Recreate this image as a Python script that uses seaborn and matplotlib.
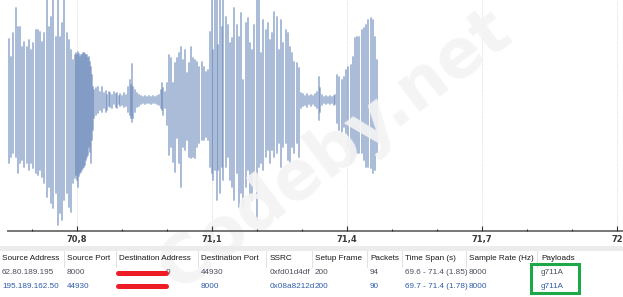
import numpy as np
import pandas as pd
import matplotlib
matplotlib.use("Agg")
import matplotlib.pyplot as plt
import seaborn as sns

# ---------------- data ----------------
# waveform strokes: time (s), upper peak, lower trough (relative sample amplitude)
stroke_t = [70.6490, 70.6534, 70.6579, 70.6646, 70.6690, 70.6734, 70.6779, 70.6823, 70.6890, 70.6934,
            70.6979, 70.7023, 70.7090, 70.7134, 70.7179, 70.7223, 70.7268, 70.7334, 70.7379, 70.7423,
            70.7468, 70.7534, 70.7579, 70.7623, 70.7668, 70.7712, 70.7779, 70.7823, 70.7868, 70.7912,
            70.7957, 70.7979, 70.8001, 70.8023, 70.8046, 70.8068, 70.8090, 70.8112, 70.8134, 70.8157,
            70.8179, 70.8201, 70.8223, 70.8246, 70.8268, 70.8290, 70.8312, 70.8334, 70.8357, 70.8379,
            70.8423, 70.8468, 70.8512, 70.8557, 70.8601, 70.8646, 70.8668, 70.8712, 70.8734, 70.8779,
            70.8823, 70.8868, 70.8890, 70.8934, 70.8957, 70.9001, 70.9046, 70.9090, 70.9134, 70.9179,
            70.9201, 70.9223, 70.9246, 70.9290, 70.9334, 70.9379, 70.9423, 70.9468, 70.9512, 70.9557,
            70.9601, 70.9646, 70.9690, 70.9734, 70.9779, 70.9823, 70.9868, 70.9890, 70.9912, 70.9957,
            71.0001, 71.0046, 71.0090, 71.0134, 71.0179, 71.0223, 71.0268, 71.0312, 71.0357, 71.0401,
            71.0446, 71.0490, 71.0534, 71.0579, 71.0623, 71.0668, 71.0712, 71.0779, 71.0823, 71.0868,
            71.0912, 71.0957, 71.1001, 71.1023, 71.1068, 71.1112, 71.1134, 71.1179, 71.1223, 71.1246,
            71.1312, 71.1357, 71.1401, 71.1446, 71.1490, 71.1557, 71.1601, 71.1646, 71.1690, 71.1757,
            71.1801, 71.1846, 71.1890, 71.1934, 71.2001, 71.2046, 71.2090, 71.2134, 71.2201, 71.2246,
            71.2290, 71.2334, 71.2379, 71.2446, 71.2490, 71.2534, 71.2579, 71.2646, 71.2690, 71.2734,
            71.2779, 71.2823, 71.2890, 71.2934, 71.2979, 71.3023, 71.3068, 71.3112, 71.3157, 71.3201,
            71.3246, 71.3290, 71.3334, 71.3379, 71.3401, 71.3446, 71.3490, 71.3534, 71.3579, 71.3623,
            71.3668, 71.3712, 71.3734, 71.3779, 71.3823, 71.3890, 71.3934, 71.3979, 71.4023, 71.4090,
            71.4134, 71.4179, 71.4223, 71.4268, 71.4334, 71.4379, 71.4423, 71.4468, 71.4534, 71.4579,
            71.4623, 71.4668]
stroke_hi = [61, 43, 67, 92, 73, 73, 53, 58, 53, 60,
             50, 57, 70, 70, 68, 58, 67, 115, 73, 83,
             115, 63, 115, 63, 77, 115, 67, 60, 50, 40,
             45, 47, 45, 48, 46, 43, 45, 45, 47, 47,
             46, 45, 45, 42, 43, 38, 33, 25, 13, 10,
             12, 13, 8, 13, 7, 9, 5, 8, 7, 5,
             8, 6, 7, 4, 6, 4, 7, 5, 13, 20,
             15, 36, 13, 10, 7, 5, 4, 3, 4, 3,
             4, 3, 4, 3, 4, 5, 10, 17, 12, 8,
             17, 45, 42, 17, 37, 42, 47, 53, 40, 50,
             27, 37, 53, 42, 40, 38, 33, 38, 33, 28,
             30, 68, 115, 50, 115, 115, 55, 115, 73, 115,
             83, 75, 57, 62, 92, 75, 63, 87, 20, 77,
             82, 57, 50, 75, 115, 115, 47, 80, 70, 77,
             60, 67, 88, 83, 50, 80, 57, 70, 67, 53,
             47, 38, 37, 32, 7, 6, 4, 6, 4, 5,
             4, 6, 8, 23, 12, 5, 3, 4, 3, 4,
             3, 4, 5, 25, 23, 20, 23, 30, 33, 35,
             43, 62, 63, 63, 70, 72, 75, 80, 82, 80,
             63, 40]
stroke_lo = [-63, -57, -53, -57, -73, -63, -60, -67, -63, -70,
             -63, -68, -73, -75, -70, -77, -83, -97, -87, -103,
             -108, -93, -125, -113, -120, -100, -93, -107, -112, -83,
             -78, -75, -80, -87, -76, -73, -72, -70, -68, -67,
             -65, -60, -57, -55, -47, -52, -63, -40, -30, -18,
             -15, -13, -10, -12, -8, -12, -10, -6, -7, -8,
             -4, -7, -8, -4, -6, -5, -7, -6, -12, -15,
             -18, -22, -18, -12, -7, -6, -4, -3, -4, -3,
             -3, -4, -3, -3, -4, -5, -8, -10, -15, -8,
             -25, -55, -47, -62, -72, -38, -63, -87, -47, -50,
             -40, -57, -58, -57, -58, -47, -43, -40, -40, -37,
             -40, -67, -73, -80, -70, -100, -70, -93, -67, -80,
             -67, -57, -80, -87, -100, -73, -107, -93, -107, -87,
             -70, -97, -100, -73, -120, -67, -63, -70, -57, -50,
             -63, -50, -57, -53, -43, -67, -47, -43, -60, -63,
             -47, -53, -43, -57, -8, -6, -5, -7, -4, -6,
             -4, -6, -8, -20, -12, -5, -3, -4, -3, -4,
             -3, -5, -4, -23, -30, -33, -27, -33, -47, -63,
             -60, -57, -53, -53, -53, -60, -67, -67, -68, -73,
             -70, -53]

# axis ticks
major_ticks = [70.8, 71.1, 71.4, 71.7, 72.0]
tick_labels = ["70,8", "71,1", "71,4", "71,7", "72"]
minor_ticks = [70.7, 70.9, 71.0, 71.2, 71.3, 71.5, 71.6, 71.8, 71.9]

# table
headers = ["Source Address", "Source Port", "Destination Address", "Destination Port", "SSRC",
           "Setup Frame", "Packets", "Time Span (s)", "Sample Rate (Hz)", "Payloads"]
src_addr = ["62.80.189.195", "195.189.162.50"]
src_port = ["8000", "44930"]
dst_addr = ["0", ""]
dst_port = ["44930", "8000"]
ssrc = ["0xfd01d4df", "0x08a8212d"]
setup_frame = ["200", "200"]
packets = ["94", "90"]
time_span = ["69.6 - 71.4 (1.85)", "69.7 - 71.4 (1.78)"]
sample_rate = ["8000", "8000"]
payloads = ["g711A", "g711A"]

# ---------------- figure ----------------
sns.set_theme(style="white")
plt.rcParams["font.family"] = ["Liberation Sans", "DejaVu Sans"]

W, H = 623, 297
fig = plt.figure(figsize=(W / 100, H / 100), dpi=100)
fig.patch.set_facecolor("white")

ax = fig.add_axes([8 / W, (H - 231) / H, (W - 8) / W, 231 / H])
ax.set_facecolor("white")
ax.set_axisbelow(False)
ov = fig.add_axes([0, 0, 1, 1])
ov.set_xlim(0, W)
ov.set_ylim(H, 0)
ov.axis("off")
ov.patch.set_alpha(0)

# vertical sample strokes, one unit per stroke
ids, xs, ys = [], [], []
for i, (t, hi, lo) in enumerate(zip(stroke_t, stroke_hi, stroke_lo)):
    ids += [i, i]
    xs += [t, t]
    ys += [hi, lo]
wave = pd.DataFrame({"id": ids, "t": xs, "v": ys})
sns.lineplot(data=wave, x="t", y="v", units="id", sort=False, estimator=None, ax=ax,
             color="#5d7fb6", alpha=0.55, linewidth=1.35, zorder=1.5)

ax.set_xlim(70.629 + 8 / 450, 70.629 + 623 / 450)
ax.set_ylim(-131, 100)
ax.set_xlabel("")
ax.set_ylabel("")
ax.set_yticks([])
for s in ["left", "top", "right"]:
    ax.spines[s].set_visible(False)
ax.spines["bottom"].set_color("#777777")
ax.spines["bottom"].set_linewidth(1.4)

ax.set_xticks(major_ticks)
ax.set_xticklabels(tick_labels, fontsize=6, fontweight="bold", color="#3a3a3a",
                   family="DejaVu Sans")
ax.set_xticks(minor_ticks, minor=True)
ax.tick_params(axis="x", which="major", direction="in", length=3.5, width=0.8,
               color="#333333", pad=3.2, bottom=True)
ax.tick_params(axis="x", which="minor", direction="in", length=1.5, width=0.8,
               color="#333333", bottom=True)
for t in major_ticks:
    ax.axvline(t, color="#cfcfcf", lw=0.6, ls=(0, (1, 1.5)), zorder=0.5)

# watermark (behind tick labels and table, above waveform)
ax.text(335, 150, "Codeby.net", transform=ov.transData, fontsize=48, fontweight="bold",
        color="#f4f4f4", alpha=0.92, rotation=37, ha="center", va="center", zorder=2,
        family="DejaVu Sans", clip_on=False)

# gray separator band
ov.add_patch(plt.Rectangle((0, 246), W, 5, color="#ececec", lw=0, zorder=1))

col_x = [2, 67, 119, 201, 270, 315, 370, 405, 469, 541]
sep_x = [64, 116, 198, 266, 312, 367, 402, 466, 537]
for sx in sep_x:
    ov.plot([sx, sx], [251, 267], color="#e2e2e2", lw=0.7, zorder=1)

fs = 5.9
for x, h in zip(col_x, headers):
    ov.text(x, 259, h, fontsize=fs, color="#1a1a1a", va="center", ha="left", zorder=3)

columns = [src_addr, src_port, dst_addr, dst_port, ssrc, setup_frame, packets,
           time_span, sample_rate, payloads]
row_y = [273, 286]
row_col = ["#4a4f5e", "#2f5ca6"]
for ci, (x, col) in enumerate(zip(col_x, columns)):
    for ri, val in enumerate(col):
        xx = x + 47 if ci == 2 else x
        ov.text(xx, row_y[ri], val, fontsize=fs, color=row_col[ri], va="center",
                ha="left", zorder=3)

# red redaction strokes
ov.plot([118, 166], [273, 273], color="#ee1c24", lw=3.6, solid_capstyle="round", zorder=4)
ov.plot([118, 166], [285.5, 285.5], color="#ee1c24", lw=3.6, solid_capstyle="round", zorder=4)

# green highlight box
ov.add_patch(plt.Rectangle((531, 264), 48, 29, fill=False, edgecolor="#1fa84a", lw=2.2,
                           zorder=5))

fig.savefig("out.png", dpi=100, facecolor="white")
